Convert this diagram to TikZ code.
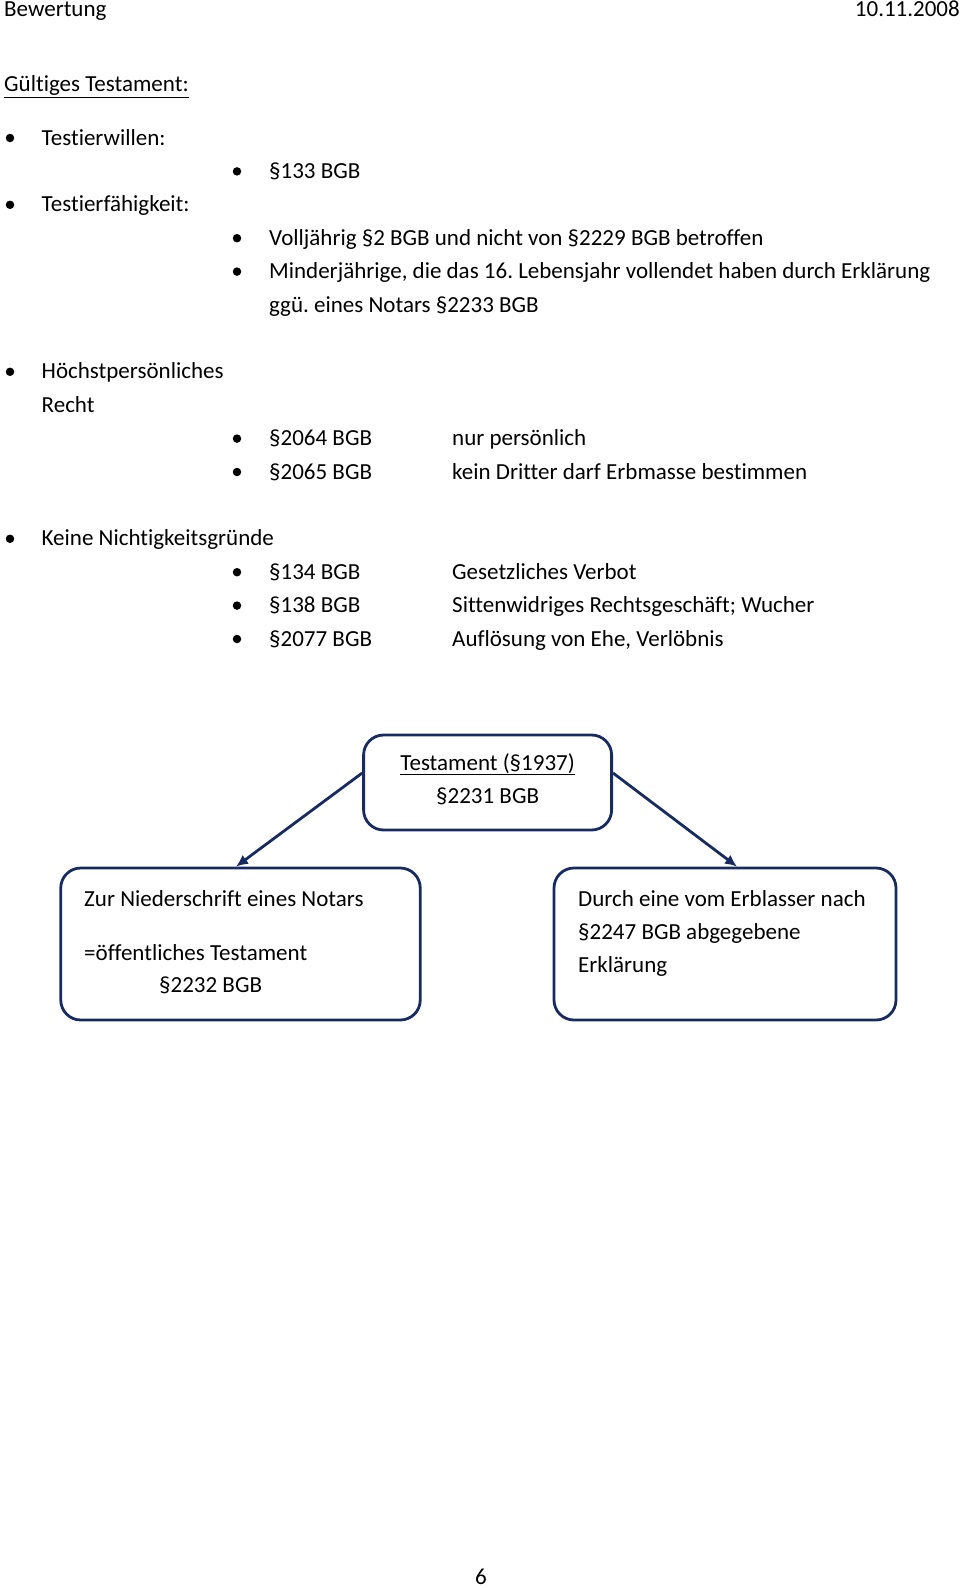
\documentclass[tikz,border=0pt]{standalone}
\usepackage{fontspec}
\setmainfont{Carlito}[Ligatures={NoCommon}]
\usepackage{xcolor}
\usetikzlibrary{arrows.meta}
\definecolor{navy}{RGB}{23,43,96}
\tikzset{>={Latex[length=12pt,width=11pt]}}
\tikzset{
  txt/.style={anchor=base west, inner sep=0pt},
  blt/.style={circle, fill=black, inner sep=0pt, minimum size=8.5pt},
  box/.style={rectangle, draw=navy, line width=2.8pt, rounded corners=20pt, inner sep=0pt},
}
\frenchspacing

\begin{document}
\begin{tikzpicture}[x=1pt, y=-1pt, font=\fontsize{23pt}{33.4pt}\selectfont]
    \useasboundingbox (0,0) rectangle (960,1588);
    % Kopfzeile
    \node at (4, 16) [txt] (kopf) {Bewertung};
    \node at (960, 16) [anchor=base east, inner sep=0pt] (datum) {10.11.2008};
    \node at (4, 91.5) [txt] (titel) {\underline{Gültiges Testament:}};

    % Testierwillen / Testierfaehigkeit
    \node at (10, 138) [blt] (b1) {};
    \node at (41.5, 145) [txt] (willen) {Testierwillen:};
    \node at (237, 171.4) [blt] (b11) {};
    \node at (269, 178.4) [txt] (p133) {§133 BGB};
    \node at (10, 204.8) [blt] (b2) {};
    \node at (41.5, 211.8) [txt] (faehig) {Testierfähigkeit:};
    \node at (237, 238.2) [blt] (b21) {};
    \node at (269, 245.2) [txt] (voll) {Volljährig §2 BGB und nicht von §2229 BGB betroffen};
    \node at (237, 271.6) [blt] (b22) {};
    \node at (269, 278.6) [txt] (minder) {Minderjährige, die das 16. Lebensjahr vollendet haben durch Erklärung};
    \node at (269, 312) [txt] (minder2) {ggü. eines Notars §2233 BGB};

    % Hoechstpersoenliches Recht
    \node at (10, 371.8) [blt] (b3) {};
    \node at (41.5, 378.8) [txt] (hoechst) {Höchstpersönliches};
    \node at (41.5, 412.2) [txt] (recht) {Recht};
    \node at (237, 438.6) [blt] (b31) {};
    \node at (269, 445.6) [txt] (p2064) {§2064 BGB};
    \node at (452, 445.6) [txt] (t2064) {nur persönlich};
    \node at (237, 472) [blt] (b32) {};
    \node at (269, 479) [txt] (p2065) {§2065 BGB};
    \node at (452, 479) [txt] (t2065) {kein Dritter darf Erbmasse bestimmen};

    % Nichtigkeitsgruende
    \node at (10, 538.8) [blt] (b4) {};
    \node at (41.5, 545.8) [txt] (nichtig) {Keine Nichtigkeitsgründe};
    \node at (237, 572.2) [blt] (b41) {};
    \node at (269, 579.2) [txt] (p134) {§134 BGB};
    \node at (452, 579.2) [txt] (t134) {Gesetzliches Verbot};
    \node at (237, 605.6) [blt] (b42) {};
    \node at (269, 612.6) [txt] (p138) {§138 BGB};
    \node at (452, 612.6) [txt] (t138) {Sittenwidriges Rechtsgeschäft; Wucher};
    \node at (237, 639) [blt] (b43) {};
    \node at (269, 646) [txt] (p2077) {§2077 BGB};
    \node at (452, 646) [txt] (t2077) {Auflösung von Ehe, Verlöbnis};

    % Kaesten
    \node at (487.6, 782.5) [box, minimum width=248pt, minimum height=95pt] (testament) {};
    \node at (487.6, 770) [anchor=base, inner sep=0pt] (testament_t) {\underline{Testament (§1937)}};
    \node at (487.6, 803) [anchor=base, inner sep=0pt] (testament_p) {§2231 BGB};

    \node at (240.5, 944) [box, minimum width=359.5pt, minimum height=152pt] (notar) {};
    \node at (84, 906) [txt] (notar_t1) {Zur Niederschrift eines Notars};
    \node at (84, 960) [txt] (notar_t2) {=öffentliches Testament};
    \node at (159, 992) [txt] (notar_t3) {§2232 BGB};

    \node at (725, 944) [box, minimum width=342pt, minimum height=152pt] (erkl) {};
    \node at (578, 906) [txt] (erkl_t1) {Durch eine vom Erblasser nach};
    \node at (578, 939) [txt] (erkl_t2) {§2247 BGB abgegebene};
    \node at (578, 972) [txt] (erkl_t3) {Erklärung};

    \draw [->, navy, line width=2.8pt] ([yshift=9.5pt]testament.west) to ([xshift=-4.5pt]notar.north);
    \draw [->, navy, line width=2.8pt] ([yshift=9.5pt]testament.east) to ([xshift=12pt]erkl.north);

    % Seitenzahl
    \node at (481, 1584) [anchor=base, inner sep=0pt] (seite) {6};
\end{tikzpicture}
\end{document}
